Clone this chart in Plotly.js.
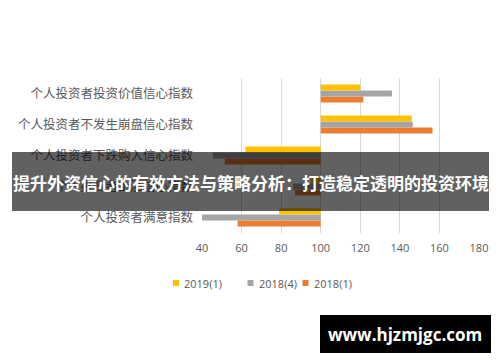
<!DOCTYPE html>
<html><head><meta charset="utf-8">
<script src="https://cdn.plot.ly/plotly-3.0.1.min.js"></script>
<style>html,body{margin:0;padding:0;background:#fff;}#chart{width:500px;height:362px;}</style>
</head><body><div id="chart"></div>
<script>
const categories = ['个人投资者满意指数','个人投资者上涨信心指数','个人投资者下跌购入信心指数','个人投资者不发生崩盘信心指数','个人投资者投资价值信心指数'];
const s2019_1 = [79, 95, 62, 146, 120];
const s2018_4 = [40, 86, 45.5, 146.5, 136];
const s2018_1 = [58, 87, 51.5, 156.5, 121.5];
const seriesNames = ['2019(1)','2018(4)','2018(1)'];
const colors = ['#FFC000','#A5A5A5','#ED7D31'];
const baseline = 100;
const xTicks = [40,60,80,100,120,140,160,180];
const bannerText = '提升外资信心的有效方法与策略分析：打造稳定透明的投资环境';
const watermark = 'www.hjzmjgc.com';

function mk(vals, name, color){
  return {type:'bar', orientation:'h', y:categories, x:vals.map(v=>v-baseline), base:baseline,
    name:name, marker:{color:color}, hoverinfo:'skip', showlegend:false};
}
const data = [mk(s2018_1, seriesNames[2], colors[2]), mk(s2018_4, seriesNames[1], colors[1]), mk(s2019_1, seriesNames[0], colors[0])];

const L=202, R=479, T=78, B=233;
const px2x = p => (p-L)/(R-L);
const py2y = p => (B-p)/(B-T);

// legend built from series names/colours (compact Office-style legend)
const legSquareX = [173, 247.5, 302.5];
const legendY = 283;
const legShapes = seriesNames.map((n,i)=>({type:'rect', xref:'paper', yref:'paper',
  x0:px2x(legSquareX[i]), x1:px2x(legSquareX[i]+6), y0:py2y(legendY+3), y1:py2y(legendY-3),
  fillcolor:colors[i], line:{width:0}}));
const legAnn = seriesNames.map((n,i)=>({xref:'paper', yref:'paper', x:px2x(legSquareX[i]+9), y:py2y(legendY),
  text:n, showarrow:false, xanchor:'left', yanchor:'middle',
  font:{family:'"Open Sans", "Liberation Sans", sans-serif', size:11, color:'#595959'}}));

const layout = {
  width:500, height:362, paper_bgcolor:'#fff', plot_bgcolor:'#fff',
  margin:{l:L, r:500-R, t:T, b:362-B, autoexpand:false},
  barmode:'group', bargap:0.42, bargroupgap:0,
  showlegend:false,
  font:{family:'"Noto Sans CJK SC", "Noto Sans", sans-serif', color:'#595959', size:11},
  xaxis:{range:[40,180], tickvals:xTicks, showgrid:true, gridcolor:'#d9d9d9', gridwidth:1, zeroline:false,
    showline:false, ticks:'', tickfont:{family:'"Open Sans", "Liberation Sans", sans-serif', size:11, color:'#595959'}, ticklabelstandoff:7, fixedrange:true},
  yaxis:{type:'category', showgrid:false, zeroline:false, showline:false, ticks:'', ticklabelstandoff:8,
    tickfont:{family:'"Noto Sans CJK SC", sans-serif', size:12.5, color:'#595959'}, fixedrange:true},
  shapes:legShapes.concat([
    {type:'rect', xref:'paper', yref:'paper', x0:px2x(12), x1:px2x(489), y0:py2y(211), y1:py2y(152),
      fillcolor:'rgba(0,0,0,0.62)', line:{width:0}, layer:'above'},
    {type:'rect', xref:'paper', yref:'paper', x0:px2x(320), x1:px2x(491), y0:py2y(353), y1:py2y(315),
      fillcolor:'#000', line:{width:0}, layer:'above'}
  ]),
  annotations:legAnn.concat([
    {xref:'paper', yref:'paper', x:px2x(250.5), y:py2y(182), text:'<b>'+bannerText+'</b>', showarrow:false,
      xanchor:'center', yanchor:'middle', font:{family:'"Noto Sans CJK SC", sans-serif', size:17, color:'#fff'}},
    {xref:'paper', yref:'paper', x:px2x(405), y:py2y(334), text:'<b>'+watermark+'</b>', showarrow:false,
      xanchor:'center', yanchor:'middle', font:{family:'"Open Sans", "DejaVu Sans", sans-serif', size:17, color:'#fff'}}
  ])
};
Plotly.newPlot('chart', data, layout, {staticPlot:true, displayModeBar:false});
</script></body></html>
